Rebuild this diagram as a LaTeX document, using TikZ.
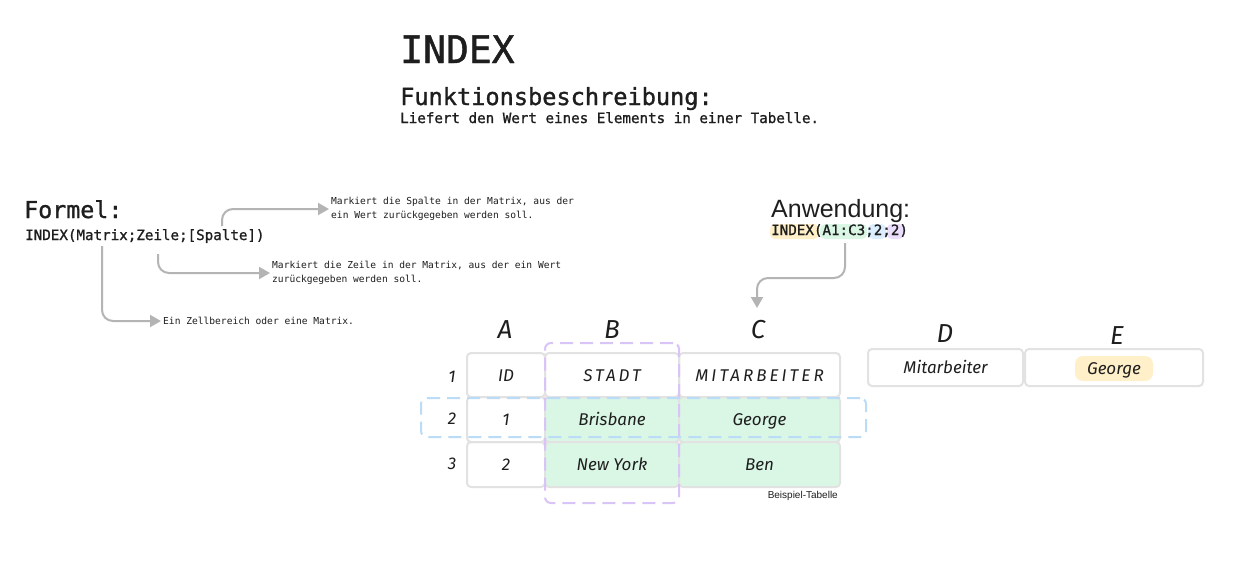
\documentclass[tikz,border=0pt]{standalone}
\usepackage{fontspec}
\usetikzlibrary{arrows.meta,calc}
\setmainfont{Liberation Sans}
\newfontfamily\monofnt{DejaVu Sans Mono}
\newfontfamily\monomed{DejaVu Sans Mono}[FakeBold=1.2]
\newfontfamily\handfnt{Fira Sans}
\newfontfamily\handsp{Fira Sans}[LetterSpace=18]
\definecolor{CT}{HTML}{1E1E1E}
\definecolor{CL}{HTML}{E2E2E2}
\definecolor{CA}{HTML}{B4B4B4}
\definecolor{CG}{HTML}{DAF7E6}
\definecolor{CP}{HTML}{D8C4F6}
\definecolor{CB}{HTML}{BADCF7}
\definecolor{CY}{HTML}{FFF0CA}
\definecolor{CU}{HTML}{DCEEFD}
\definecolor{CV}{HTML}{EBDDFC}
\tikzset{
	txt/.style  = {inner sep=0pt, text=CT},
	note/.style = {txt, align=left, font=\monofnt\fontsize{9.6}{14.5}\selectfont},
	conn/.style = {-{Triangle[length=11pt,width=12pt]}, draw=CA, line width=2pt, rounded corners=11pt, shorten >=2pt},
	cell/.style = {draw=CL, line width=2pt, rounded corners=4pt, inner sep=0pt, text=CT,
		text height=14pt, text depth=2pt, font=\handfnt\itshape\fontsize{17}{17}\selectfont},
	hand/.style = {txt, font=\handfnt\itshape\fontsize{#1}{#1}\selectfont},
	hand/.default = 17,
	sel/.style  = {draw=#1, line width=2pt, dash pattern=on 13pt off 7pt, rounded corners=6pt, inner sep=0pt},
}

\begin{document}
\begin{tikzpicture}[x=1pt, y=-1pt]
	\useasboundingbox[fill=white] (0,0) rectangle (1251,563);
	
	%% header
	\node[txt, anchor=base west, font=\monomed\fontsize{38}{40}\selectfont] (title) at (400,63) {INDEX};
	\node[txt, anchor=base west, font=\monomed\fontsize{23.6}{26}\selectfont] (descHead) at (400,105) {Funktionsbeschreibung:};
	\node[txt, anchor=base west, font=\monomed\fontsize{14.2}{16}\selectfont] (desc) at (400,123) {Liefert den Wert eines Elements in einer Tabelle.};
	
	%% formula + explanations
	\node[txt, anchor=base west, font=\monomed\fontsize{23.3}{26}\selectfont] (formHead) at (24,218) {Formel:};
	\node[txt, anchor=base west, font=\monomed\fontsize{14.2}{16}\selectfont] (form) at (25,240) {INDEX(Matrix;Zeile;[Spalte])};
	
	\node[note, anchor=west] (noteSpalte) at (331,209) {Markiert die Spalte in der Matrix, aus der\\ein Wert zurückgegeben werden soll.};
	\node[note, anchor=west] (noteZeile) at (272,273) {Markiert die Zeile in der Matrix, aus der ein Wert\\zurückgegeben werden soll.};
	\node[note, anchor=west] (noteMatrix) at (163,321) {Ein Zellbereich oder eine Matrix.};
	
	\coordinate (spalteAt) at (222,226);
	\coordinate (zeileAt)  at (158,254);
	\coordinate (matrixAt) at (102,246);
	\draw[conn] (spalteAt) |- (noteSpalte.west);
	\draw[conn] (zeileAt)  |- (noteZeile.west);
	\draw[conn] (matrixAt) |- (noteMatrix.west);
	
	%% application
	\node[txt, anchor=base west, font=\fontsize{25}{27}\selectfont] (useHead) at (771,217) {Anwendung:};
	\fill[CY, rounded corners=5pt] (770,224) rectangle (819,239);
	\fill[CG, rounded corners=5pt] (820,224) rectangle (867,239);
	\fill[CU, rounded corners=5pt] (868,224) rectangle (886,239);
	\fill[CV, rounded corners=5pt] (887,224) rectangle (904,239);
	\node[txt, anchor=base west, font=\monomed\fontsize{14.2}{16}\selectfont] (useForm) at (771,235) {INDEX(A1:C3;2;2)};
	
	\coordinate (useAt)   at (845,243);
	\coordinate (useBend) at (800,278);
	\coordinate (useEnd)  at (757,310);
	\draw[conn] (useAt) |- (useBend) -| (useEnd);
	
	%% column / row letters
	\node[hand=26] (colA) at (505,330) {A};
	\node[hand=26] (colB) at (612,330) {B};
	\node[hand=26] (colC) at (758,330) {C};
	\node[hand=26] (colD) at (945,334) {D};
	\node[hand=26] (colE) at (1117,336) {E};
	\node[hand] (row1) at (452,377) {1};
	\node[hand] (row2) at (452,419) {2};
	\node[hand] (row3) at (452,464) {3};
	
	%% example table
	\node[cell, minimum width=78pt,  minimum height=44pt] (a1) at (506,375) {ID};
	\node[cell, minimum width=134pt, minimum height=44pt] (b1) at (612,375) {\handsp STADT};
	\node[cell, minimum width=161pt, minimum height=44pt] (c1) at (759.5,375) {\handsp MITARBEITER};
	\node[cell, minimum width=78pt,  minimum height=45pt] (a2) at (506,419.5) {1};
	\node[cell, fill=CG, minimum width=134pt, minimum height=45pt] (b2) at (612,419.5) {Brisbane};
	\node[cell, fill=CG, minimum width=161pt, minimum height=45pt] (c2) at (759.5,419.5) {George};
	\node[cell, minimum width=78pt,  minimum height=45pt] (a3) at (506,464.5) {2};
	\node[cell, fill=CG, minimum width=134pt, minimum height=45pt] (b3) at (612,464.5) {New York};
	\node[cell, fill=CG, minimum width=161pt, minimum height=45pt] (c3) at (759.5,464.5) {Ben};
	
	%% selections
	\node[sel=CP, minimum width=134pt, minimum height=160pt] (selCol) at (612,423) {};
	\node[sel=CB, minimum width=445pt, minimum height=39pt] (selRow) at (643.5,417.5) {};
	
	\node[txt, anchor=base east, font=\fontsize{10}{12}\selectfont] (caption) at (838,498) {Beispiel-Tabelle};
	
	%% result cells
	\node[cell, minimum width=155pt, minimum height=37pt] (d1) at (945.5,367.5) {Mitarbeiter};
	\node[cell, minimum width=178pt, minimum height=37pt] (e1) at (1114,367.5) {};
	\fill[CY, rounded corners=8pt] (1075,356) rectangle (1153,381);
	\node[hand, text height=14pt, text depth=2pt] (result) at (1114,368.5) {George};
	
\end{tikzpicture}
\end{document}
